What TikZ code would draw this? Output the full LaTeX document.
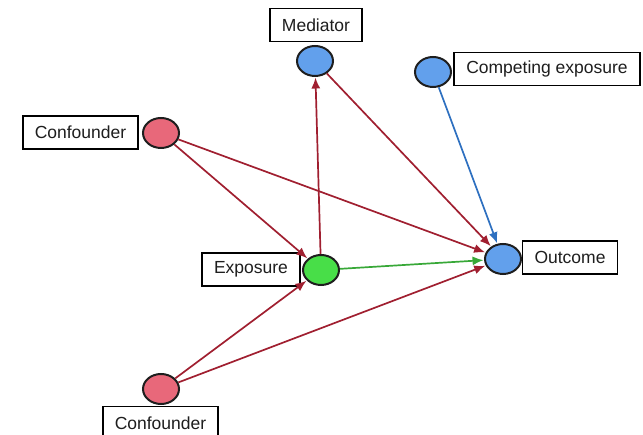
\documentclass[tikz,border=0pt]{standalone}
\usepackage{fontspec}
\setmainfont{Liberation Sans}
\usetikzlibrary{shapes.geometric,arrows.meta}
\definecolor{redfill}{HTML}{E8687A}
\definecolor{bluefill}{HTML}{62A0EC}
\definecolor{greenfill}{HTML}{48DE48}
\definecolor{redarrow}{HTML}{A01F30}
\definecolor{bluearrow}{HTML}{2E70C0}
\definecolor{greenarrow}{HTML}{38A838}
\definecolor{ink}{HTML}{1E1E1E}
\begin{document}
\begin{tikzpicture}[x=1pt,y=-1pt,
  var/.style={ellipse,draw=ink,line width=2pt,minimum width=36pt,minimum height=30pt,inner sep=0pt},
  tag/.style={draw=black,line width=1.7pt,fill=white,text=ink,inner xsep=12pt,minimum height=33pt,
    font=\fontsize{17.5}{20}\selectfont},
  link/.style={line width=1.7pt,-{Latex[length=11pt,width=9pt]},shorten >=0.5pt},
]
\useasboundingbox (0,0) rectangle (643,435);

% variables
\node[var,fill=bluefill]  (med)  at (315,61)  {};
\node[var,fill=bluefill]  (comp) at (433,72)  {};
\node[var,fill=redfill]   (conf1) at (161,133) {};
\node[var,fill=greenfill] (expo) at (321,270) {};
\node[var,fill=bluefill]  (out)  at (503,259) {};
\node[var,fill=redfill]   (conf2) at (161,389) {};

% labels
\node[tag] (medlbl)  at (316,25)    {Mediator};
\node[tag] (complbl) at (547,69)    {Competing exposure};
\node[tag] (c1lbl)   at (80.5,132.5) {Confounder};
\node[tag] (expolbl) at (251,269.5) {Exposure};
\node[tag] (outlbl)  at (570,257.5) {Outcome};
\node[tag] (c2lbl)   at (160.5,423) {Confounder};

% causal paths
\draw[link,redarrow] (conf1) -- (expo);
\draw[link,redarrow] (conf1) -- (out);
\draw[link,redarrow] (expo) -- (med);
\draw[link,redarrow] (med) -- (out);
\draw[link,redarrow] (conf2) -- (expo);
\draw[link,redarrow] (conf2) -- (out);
\draw[link,greenarrow] (expo) -- (out);
\draw[link,bluearrow] (comp) -- (out);
\end{tikzpicture}
\end{document}
